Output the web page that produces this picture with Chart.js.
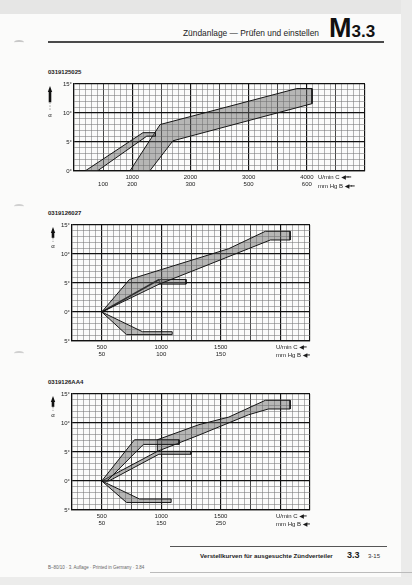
<!DOCTYPE html>
<html><head><meta charset="utf-8">
<script src="https://cdn.jsdelivr.net/npm/chart.js@4.4.0/dist/chart.umd.min.js"></script>
<style>
html,body{margin:0;padding:0;}
body{width:412px;height:585px;position:relative;background:#fbfbfa;overflow:hidden;font-family:"Liberation Sans",Arial,sans-serif;color:#1a1a1a;}
.abs{position:absolute;white-space:nowrap;line-height:1;}
canvas{position:absolute;}
.unit{font-size:6px;}
.arr{font-family:"DejaVu Sans";font-size:6px;letter-spacing:-1px;}
</style></head><body>
<div class="abs" style="left:0;top:0;width:412px;height:14px;background:#e6e6e5"></div>
<div class="abs" style="left:401px;top:0;width:11px;height:585px;background:#ebebea"></div>
<div class="abs" style="left:0;top:577px;width:412px;height:8px;background:#ececeb"></div>
<div class="abs" style="left:14px;top:40px;width:10px;height:3px;border-top:2px solid #c8c8c8;border-radius:50%"></div>
<div class="abs" style="left:14px;top:204px;width:10px;height:3px;border-top:2px solid #d0d0d0;border-radius:50%"></div>
<div class="abs" style="left:14px;top:351px;width:10px;height:3px;border-top:2px solid #d0d0d0;border-radius:50%"></div>

<div class="abs" style="left:183px;top:29px;font-size:8.4px;color:#222">Zündanlage — Prüfen und einstellen</div>
<div class="abs" style="left:329px;top:15px;font-weight:bold;color:#111"><span style="font-size:27px">M</span><span style="font-size:17px">3.3</span></div>
<div class="abs" style="left:48px;top:41px;width:336px;height:2px;background:#4a4a4a"></div>

<div class="abs" style="left:48px;top:69px;font-size:6px;font-weight:bold">0319125025</div>
<div class="abs" style="left:48px;top:210px;font-size:6px;font-weight:bold">0319126027</div>
<div class="abs" style="left:48px;top:379px;font-size:6px;font-weight:bold">0319126AA4</div>

<canvas id="c1" width="330" height="115" style="left:40px;top:78px"></canvas>
<canvas id="c2" width="275" height="144" style="left:40px;top:219px"></canvas>
<canvas id="c3" width="275" height="144" style="left:40px;top:388px"></canvas>

<div class="abs unit" style="left:318px;top:174px">U/min C <span class="arr">◀━━</span></div>
<div class="abs unit" style="left:318px;top:183px">mm Hg B <span class="arr">◀━━</span></div>
<div class="abs unit" style="left:276px;top:344px">U/min C <span class="arr">◀━</span></div>
<div class="abs unit" style="left:276px;top:352px">mm Hg B <span class="arr">◀━</span></div>
<div class="abs unit" style="left:276px;top:513px">U/min C <span class="arr">◀━</span></div>
<div class="abs unit" style="left:276px;top:521px">mm Hg B <span class="arr">◀━</span></div>

<div class="abs" style="left:170px;top:546px;width:217px;height:1px;background:#555"></div>
<div class="abs" style="left:200px;top:553px;font-size:6.2px;font-weight:bold;color:#222">Verstellkurven für ausgesuchte Zündverteiler</div>
<div class="abs" style="left:347px;top:551px;font-size:9px;font-weight:bold">3.3</div>
<div class="abs" style="left:368px;top:553px;font-size:6px;color:#333">3-15</div>
<div class="abs" style="left:48px;top:566px;font-size:4.5px;color:#666">B–80/10 · 3. Auflage · Printed in Germany · 3.84</div>
<div class="abs" style="left:150px;top:572px;width:262px;height:1px;background:#bbb"></div>

<script>
// ---------- Chart 1: 0319125025 (x: U/min, y: degrees) ----------
const c1_rpmRange = [0, 5000];
const c1_degRange = [0, 15];
const c1_xTicks = [500, 1000, 2000, 3000, 4000];
const c1_xLabelsRpm = ["", "1000", "2000", "3000", "4000"];
const c1_xLabelsVac = ["100", "200", "300", "500", "600"];
const c1_yTicks = [0, 5, 10, 15];
const c1_yLabels = ["0°", "5°", "10°", "15°"];
const c1_bandA = [[190,0],[1185,6.6],[1400,6.6],[1400,6.0],[1250,6.0],[400,0]];
const c1_bandB = [[960,0],[1480,8.0],[3830,14.2],[4090,14.2],[4090,11.6],[1700,5.2],[1300,0]];

// ---------- Chart 2: 0319126027 ----------
const c2_rpmRange = [250, 2250];
const c2_degRange = [-5, 15];
const c2_xTicks = [500, 1000, 1500];
const c2_xLabelsRpm = ["500", "1000", "1500"];
const c2_xLabelsVac = ["50", "100", "150"];
const c2_yTicks = [-5, 0, 5, 10, 15];
const c2_yLabels = ["5°", "0°", "5°", "10°", "15°"];
const c2_bandUp = [[500,0],[733,5.6],[1567,10.9],[1875,13.9],[2083,13.9],[2083,12.4],[1917,12.4],[1733,10.9],[1317,7.5],[983,4.8]];
const c2_knee = [[983,5.6],[1208,5.6],[1208,4.8],[983,4.8]];
const c2_line = [[500,0],[983,5.6]];
const c2_bandDown = [[500,0],[708,-3.9],[1092,-3.9],[1092,-3.4],[842,-3.4]];

// ---------- Chart 3: 0319126AA4 ----------
const c3_rpmRange = [250, 2250];
const c3_degRange = [-5, 15];
const c3_xTicks = [500, 1000, 1500];
const c3_xLabelsRpm = ["500", "1000", "1500"];
const c3_xLabelsVac = ["50", "150", "250"];
const c3_yTicks = [-5, 0, 5, 10, 15];
const c3_yLabels = ["5°", "0°", "5°", "10°", "15°"];
const c3_bandSteep = [[500,0],[775,7.1],[1150,7.1],[1150,6.3],[850,6.3],[545,0]];
const c3_bandMain = [[967,7.1],[1317,9.7],[1567,11.0],[1875,13.9],[2083,13.9],[2083,12.4],[1900,12.4],[1733,11.4],[1317,7.9],[967,5.1]];
const c3_bandInner = [[500,0],[967,5.1],[1250,5.1],[1250,4.6],[980,4.6],[560,0]];
const c3_bandDown = [[500,0],[708,-3.7],[1083,-3.7],[1083,-3.1],[817,-3.1]];

// ---------- helpers ----------
const FILL = 'rgba(105,105,105,0.47)';
const EDGE = '#151515';

function poly(pts, opts) {
  const data = pts.map(p => ({x: p[0], y: p[1]}));
  data.push({x: pts[0][0], y: pts[0][1]});
  return Object.assign({data, showLine: true, fill: 'shape', backgroundColor: FILL,
    borderColor: EDGE, borderWidth: 1, pointRadius: 0, tension: 0}, opts || {});
}
function line(pts, opts) {
  return Object.assign({data: pts.map(p => ({x: p[0], y: p[1]})), showLine: true, fill: false,
    borderColor: '#000', borderWidth: 1.6, pointRadius: 0, tension: 0}, opts || {});
}
function range(a, b, s) { const r = []; for (let v = a; v <= b + 1e-9; v += s) r.push(Math.round(v * 100) / 100); return r; }

const axisArrow = {
  id: 'axisArrow',
  afterDraw(chart, args, o) {
    const {ctx, chartArea} = chart;
    const x = chartArea.left - o.dx, y0 = chartArea.top + o.top, y1 = chartArea.top + o.len;
    ctx.save();
    ctx.fillStyle = '#111';
    ctx.beginPath(); ctx.moveTo(x, y0); ctx.lineTo(x - 2.2, y0 + 6); ctx.lineTo(x + 2.2, y0 + 6); ctx.closePath(); ctx.fill();
    const mid = y0 + 6 + (y1 - y0 - 6) * 0.55;
    ctx.fillRect(x - 1.3, y0 + 6, 2.6, mid - y0 - 6);
    ctx.strokeStyle = '#999'; ctx.lineWidth = 1; ctx.setLineDash([1.5, 1.5]);
    ctx.beginPath(); ctx.moveTo(x, mid); ctx.lineTo(x, y1); ctx.stroke();
    ctx.setLineDash([]);
    ctx.font = '6px "Liberation Sans"'; ctx.textAlign = 'center'; ctx.textBaseline = 'top';
    ctx.fillText('α', x, y1 + 1);
    ctx.restore();
  }
};

function makeChart(id, cfg) {
  const xMinor = range(cfg.xr[0], cfg.xr[1], cfg.xStep);
  const yMinor = range(cfg.yr[0], cfg.yr[1], cfg.yStep);
  const xl = {}; cfg.xt.forEach((v, i) => xl[v] = [cfg.xa[i], cfg.xb[i]]);
  const yl = {}; cfg.yt.forEach((v, i) => yl[v] = cfg.yl[i]);
  const gx = (ctx) => {
    const v = ctx.tick ? ctx.tick.value : 0;
    if (v === cfg.xr[0] || v === cfg.xr[1]) return 2;
    if (Math.abs(v % cfg.xMajor) < 1e-6) return 2;
    if (Math.abs(v % cfg.xMid) < 1e-6) return 1;
    return 0;
  };
  const gy = (ctx) => {
    const v = ctx.tick ? ctx.tick.value : 0;
    if (v === cfg.yr[0] || v === cfg.yr[1]) return 2;
    if (Math.abs(v % 5) < 1e-6) return 2;
    return 0;
  };
  const cols = ['#767676', '#333', '#111'];
  const lws = [0.55, 0.9, 1.15];
  const font = {family: '"Liberation Sans", Arial', size: 6, lineHeight: 1.3};
  return new Chart(document.getElementById(id), {
    type: 'scatter',
    data: {datasets: cfg.datasets},
    plugins: [axisArrow],
    options: {
      responsive: false, animation: false, events: [],
      layout: {padding: {top: 4, right: 5, left: 0, bottom: 0}},
      plugins: {legend: {display: false}, tooltip: {enabled: false}, axisArrow: cfg.arrow},
      scales: {
        x: {
          type: 'linear', min: cfg.xr[0], max: cfg.xr[1],
          afterBuildTicks: s => { s.ticks = xMinor.map(v => ({value: v})); },
          afterFit: s => { s.height = 22; },
          ticks: {autoSkip: false, maxRotation: 0, minRotation: 0, padding: 2, color: '#222', font,
            callback: v => (xl[v] ? xl[v] : '')},
          grid: {drawTicks: false, color: c => cols[gx(c)], lineWidth: c => lws[gx(c)]},
          border: {display: true, color: '#111', width: 1.2}
        },
        y: {
          type: 'linear', min: cfg.yr[0], max: cfg.yr[1],
          afterBuildTicks: s => { s.ticks = yMinor.map(v => ({value: v})); },
          afterFit: s => { s.width = cfg.yW; },
          ticks: {autoSkip: false, padding: 2, color: '#222', font,
            callback: v => (yl[v] !== undefined ? yl[v] : '')},
          grid: {drawTicks: false, color: c => cols[gy(c)], lineWidth: c => lws[gy(c)]},
          border: {display: true, color: '#111', width: 1.2}
        }
      }
    }
  });
}

makeChart('c1', {
  xr: c1_rpmRange, yr: c1_degRange, xStep: 100, yStep: 1, xMajor: 1000, xMid: 500, yW: 34,
  xt: c1_xTicks, xa: c1_xLabelsRpm, xb: c1_xLabelsVac, yt: c1_yTicks, yl: c1_yLabels,
  arrow: {dx: 24, top: 2, len: 27},
  datasets: [poly(c1_bandA), poly(c1_bandB)]
});
makeChart('c2', {
  xr: c2_rpmRange, yr: c2_degRange, xStep: 50, yStep: 1, xMajor: 500, xMid: 250, yW: 32,
  xt: c2_xTicks, xa: c2_xLabelsRpm, xb: c2_xLabelsVac, yt: c2_yTicks, yl: c2_yLabels,
  arrow: {dx: 19, top: 2, len: 17},
  datasets: [poly(c2_bandUp), poly(c2_knee), poly(c2_bandDown), line(c2_line)]
});
makeChart('c3', {
  xr: c3_rpmRange, yr: c3_degRange, xStep: 50, yStep: 1, xMajor: 500, xMid: 250, yW: 32,
  xt: c3_xTicks, xa: c3_xLabelsRpm, xb: c3_xLabelsVac, yt: c3_yTicks, yl: c3_yLabels,
  arrow: {dx: 19, top: 2, len: 17},
  datasets: [poly(c3_bandSteep), poly(c3_bandMain), poly(c3_bandInner), poly(c3_bandDown)]
});
</script>
</body></html>
